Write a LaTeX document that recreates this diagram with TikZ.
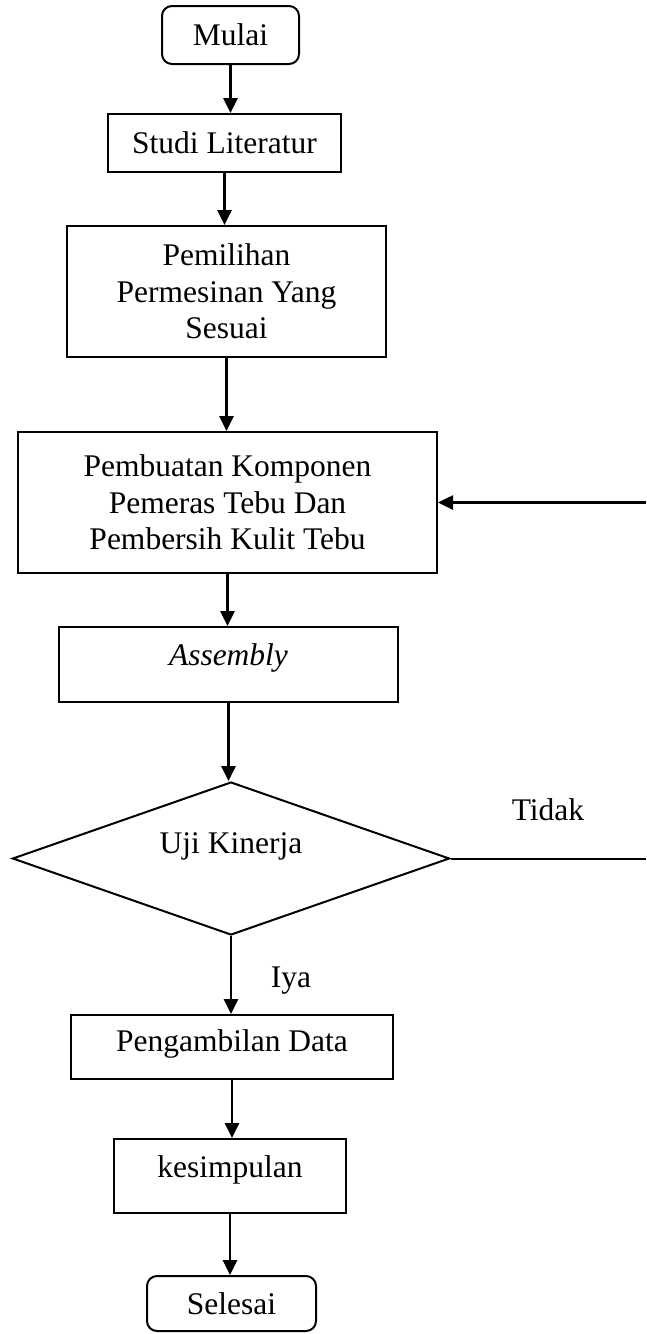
\documentclass[tikz,border=0pt]{standalone}
\usepackage{fontspec}
\setmainfont{Liberation Serif}
\usetikzlibrary{arrows.meta,shapes.geometric}
\tikzset{
  txt/.style={font=\fontsize{31.5}{36.5}\selectfont, align=center, inner sep=0pt},
  box/.style={txt, draw, line width=2pt, rectangle},
  term/.style={box, rounded corners=10pt},
  dec/.style={txt, draw, line width=2pt, diamond},
  arr/.style={line width=2.6pt, -{Triangle[length=15pt,width=14pt]}},
  ln/.style={line width=2pt}
}
\begin{document}
\begin{tikzpicture}[x=1pt,y=-1pt]
\useasboundingbox (0,0) rectangle (646,1334);
\node[term, minimum width=137pt, minimum height=58pt] (mulai) at (230.5,35) {Mulai};
\node[box, minimum width=233pt, minimum height=58pt] (studi) at (224.5,143) {Studi Literatur};
\node[box, minimum width=319pt, minimum height=131pt] (pilih) at (226.5,291.5) {Pemilihan\\Permesinan Yang\\Sesuai};
\node[box, minimum width=419pt, minimum height=141pt] (buat) at (227.5,502.5) {Pembuatan Komponen\\Pemeras Tebu Dan\\Pembersih Kulit Tebu};
\node[box, minimum width=339pt, minimum height=75pt, label={[txt,yshift=7pt]center:\textit{Assembly}}] (asm) at (228.5,664.5) {};
\node[dec, minimum width=437pt, minimum height=153pt, label={[txt,yshift=12pt]center:Uji Kinerja}] (uji) at (231,858.5) {};
\node[box, minimum width=322pt, minimum height=64pt, label={[txt,yshift=3pt]center:Pengambilan Data}] (data) at (232,1047) {};
\node[box, minimum width=232pt, minimum height=74pt, label={[txt,yshift=6pt]center:kesimpulan}] (kes) at (230,1176) {};
\node[term, minimum width=169pt, minimum height=55pt] (selesai) at (231.5,1303.5) {Selesai};
\coordinate (backin) at (646,502.5);
\coordinate (tidakend) at (646,858.5);
\node[txt, anchor=base] (tidak) at (548,820) {Tidak};
\node[txt, anchor=base] (iya) at (291,987) {Iya};
\draw[arr] (mulai.south) -- (mulai.south |- studi.north);
\draw[arr] (studi.south) -- (studi.south |- pilih.north);
\draw[arr] (pilih.south) -- (pilih.south |- buat.north);
\draw[arr] (buat.south) -- (buat.south |- asm.north);
\draw[arr] (asm.south) -- (asm.south |- uji.north);
\draw[arr] (uji.south) -- (uji.south |- data.north);
\draw[arr] (data.south) -- (data.south |- kes.north);
\draw[arr] (kes.south) -- (kes.south |- selesai.north);
\draw[ln] (uji.east) -- (tidakend);
\draw[arr] (backin) -- (buat.east);
\end{tikzpicture}
\end{document}
